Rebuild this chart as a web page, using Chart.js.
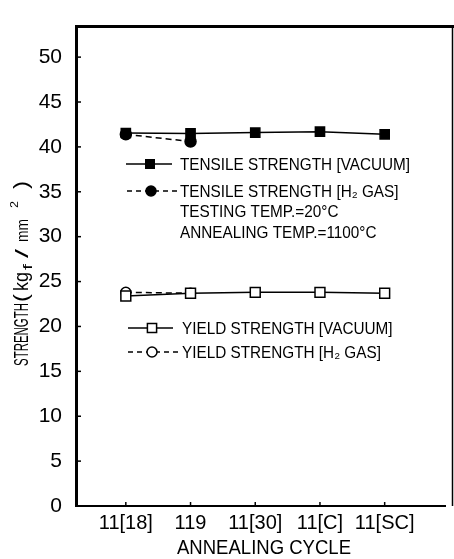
<!DOCTYPE html>
<html>
<head>
<meta charset="utf-8">
<script src="https://cdn.jsdelivr.net/npm/chart.js@4/dist/chart.umd.min.js"></script>
<style>
  html, body { margin: 0; padding: 0; background: #fff; }
  canvas { display: block; }
</style>
</head>
<body>
<canvas id="chart" width="454" height="559"></canvas>
<script>
  'use strict';

  // values
  const categories = ['11[18]', '119', '11[30]', '11[C]', '11[SC]'];
  const tensileVacuum = [41.55, 41.5, 41.6, 41.7, 41.4];
  const tensileH2 = [41.4, 40.6];
  const yieldVacuum = [23.4, 23.7, 23.8, 23.8, 23.7];
  const yieldH2 = [23.8, 23.7];
  const yTicks = [0, 5, 10, 15, 20, 25, 30, 35, 40, 45, 50];

  const FONT = '"Liberation Sans", Arial, sans-serif';
  const toPoints = (arr) => arr.map((v, i) => ({ x: i, y: v }));

  // draw text squeezed horizontally so it matches the narrow lettering of the figure
  function squeezed(ctx, text, x, y, sx) {
    ctx.save();
    ctx.translate(x, y);
    ctx.scale(sx, 1);
    ctx.fillText(text, 0, 0);
    ctx.restore();
  }

  function fitText(ctx, text, x, y, w) {
    const m = ctx.measureText(text).width;
    squeezed(ctx, text, x, y, w / m);
  }

  const legendEntries = [
    { y: 164, x0: 126, x1: 172, px: 150, tx: 180, dash: false, style: 'rect', r: 6, fill: '#000', text: 'TENSILE STRENGTH [VACUUM]' },
    { y: 191, x0: 127, x1: 177, px: 151, tx: 180, dash: true, style: 'circle', r: 5, fill: '#000', text: 'TENSILE STRENGTH [H₂ GAS]' },
    { y: 328, x0: 128, x1: 173, px: 152, tx: 182, dash: false, style: 'rect', r: 6.5, fill: '#fff', text: 'YIELD STRENGTH [VACUUM]' },
    { y: 352, x0: 128, x1: 178, px: 152, tx: 182, dash: true, style: 'circle', r: 5, fill: '#fff', text: 'YIELD STRENGTH [H₂ GAS]' },
  ];

  const decorations = {
    id: 'decorations',
    afterDraw(chart) {
      const ctx = chart.ctx;
      const a = chart.chartArea;
      const xs = chart.scales.x;
      const ys = chart.scales.y;
      ctx.save();
      ctx.strokeStyle = '#000';
      ctx.fillStyle = '#000';

      // top and right frame
      ctx.lineWidth = 3;
      ctx.beginPath();
      ctx.moveTo(a.left, a.top);
      ctx.lineTo(454, a.top);
      ctx.stroke();
      ctx.lineWidth = 1.5;
      ctx.beginPath();
      ctx.moveTo(452.5, a.top);
      ctx.lineTo(452.5, a.bottom);
      ctx.stroke();

      // inward ticks
      ctx.lineWidth = 1.5;
      yTicks.forEach((v) => {
        const py = ys.getPixelForValue(v);
        ctx.beginPath();
        ctx.moveTo(a.left, py);
        ctx.lineTo(a.left + 5, py);
        ctx.stroke();
      });
      categories.forEach((c, i) => {
        const px = xs.getPixelForValue(i);
        ctx.beginPath();
        ctx.moveTo(px, a.bottom);
        ctx.lineTo(px, a.bottom - 4);
        ctx.stroke();
      });

      // legend entries
      ctx.font = '17px ' + FONT;
      ctx.textBaseline = 'middle';
      ctx.textAlign = 'left';
      legendEntries.forEach((e) => {
        ctx.lineWidth = 1.5;
        ctx.setLineDash(e.dash ? [5, 4] : []);
        ctx.beginPath();
        ctx.moveTo(e.x0, e.y);
        ctx.lineTo(e.x1, e.y);
        ctx.stroke();
        ctx.setLineDash([]);
        ctx.fillStyle = e.fill;
        Chart.helpers.drawPoint(ctx, { pointStyle: e.style, radius: e.r, rotation: 0, borderWidth: 1.5 }, e.px, e.y);
        ctx.fillStyle = '#000';
        squeezed(ctx, e.text, e.tx, e.y + 1, 0.9);
      });
      squeezed(ctx, 'TESTING TEMP.=20°C', 180, 212, 0.9);
      squeezed(ctx, 'ANNEALING TEMP.=1100°C', 180, 233, 0.9);

      // x axis title
      ctx.font = '20px ' + FONT;
      ctx.textAlign = 'left';
      fitText(ctx, 'ANNEALING CYCLE', 177, 548, 174);

      // y axis title, rotated
      ctx.save();
      ctx.translate(28, 366);
      ctx.rotate(-Math.PI / 2);
      ctx.textBaseline = 'alphabetic';
      ctx.font = '21px ' + FONT;
      fitText(ctx, 'STRENGTH', 0, 0, 63);
      fitText(ctx, '(', 64, 0, 8);
      fitText(ctx, 'kg', 75, 0, 19);
      ctx.font = '13px ' + FONT;
      fitText(ctx, 'f', 96, 4, 6);
      ctx.font = '19px ' + FONT;
      fitText(ctx, '/', 108, 0, 9);
      ctx.font = '17px ' + FONT;
      fitText(ctx, 'mm', 124, 0, 23);
      ctx.font = '11px ' + FONT;
      fitText(ctx, '2', 158, -10, 7);
      ctx.font = '21px ' + FONT;
      fitText(ctx, ')', 177, 0, 8);
      ctx.restore();

      ctx.restore();
    },
  };

  const lineStyle = (dash) => ({
    borderColor: '#000',
    borderWidth: 1.5,
    borderDash: dash ? [6, 4] : [],
    pointBorderColor: '#000',
    pointBorderWidth: 1.5,
    tension: 0,
    fill: false,
  });

  new Chart(document.getElementById('chart'), {
    type: 'line',
    data: {
      datasets: [
        { label: 'TENSILE STRENGTH [VACUUM]', data: toPoints(tensileVacuum), ...lineStyle(false), pointStyle: 'rect', pointRadius: 6.5, pointBackgroundColor: '#000' },
        { label: 'TENSILE STRENGTH [H₂ GAS]', data: toPoints(tensileH2), ...lineStyle(true), pointStyle: 'circle', pointRadius: 5.5, pointBackgroundColor: '#000' },
        { label: 'YIELD STRENGTH [VACUUM]', data: toPoints(yieldVacuum), ...lineStyle(false), pointStyle: 'rect', pointRadius: 7, pointBackgroundColor: '#fff' },
        { label: 'YIELD STRENGTH [H₂ GAS]', data: toPoints(yieldH2), ...lineStyle(true), pointStyle: 'circle', pointRadius: 5, pointBackgroundColor: '#fff' },
      ],
    },
    options: {
      responsive: false,
      animation: false,
      layout: { padding: { left: 0, top: 8, right: 1, bottom: 0 } },
      plugins: {
        legend: { display: false },
        tooltip: { enabled: false },
      },
      scales: {
        x: {
          type: 'linear',
          min: -0.77,
          max: 4.94,
          afterBuildTicks: (scale) => {
            scale.ticks = categories.map((c, i) => ({ value: i }));
          },
          afterFit: (scale) => { scale.height = 53; },
          grid: { display: false, drawTicks: false, tickLength: 0 },
          border: { display: true, color: '#000', width: 2 },
          ticks: {
            autoSkip: false,
            maxRotation: 0,
            padding: 5,
            color: '#000',
            font: { family: FONT, size: 20 },
            callback: (v) => categories[v],
          },
        },
        y: {
          min: 0,
          max: 53.4,
          afterBuildTicks: (scale) => {
            scale.ticks = yTicks.map((v) => ({ value: v }));
          },
          afterFit: (scale) => { scale.width = 76; },
          grid: { display: false, drawTicks: false, tickLength: 0 },
          border: { display: true, color: '#000', width: 3 },
          ticks: {
            padding: 14,
            color: '#000',
            font: { family: FONT, size: 21 },
          },
        },
      },
    },
    plugins: [decorations],
  });
</script>
</body>
</html>
